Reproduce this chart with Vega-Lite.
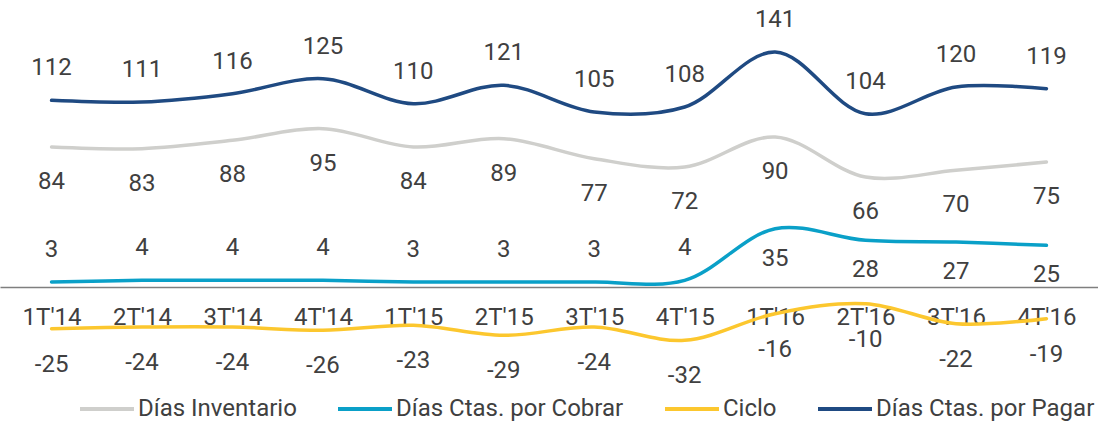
{
  "$schema": "https://vega.github.io/schema/vega-lite/v6.json",
  "width": 1098,
  "height": 421,
  "autosize": "none",
  "padding": 0,
  "background": "white",
  "config": {
    "view": {"stroke": null},
    "font": "Roboto",
    "text": {"font": "Roboto", "fontSize": 24, "color": "#404040", "baseline": "middle", "align": "center"}
  },
  "data": {
    "values": [
      {"q": "1T'14", "serie": "Días Inventario", "v": 84},
      {"q": "2T'14", "serie": "Días Inventario", "v": 83},
      {"q": "3T'14", "serie": "Días Inventario", "v": 88},
      {"q": "4T'14", "serie": "Días Inventario", "v": 95},
      {"q": "1T'15", "serie": "Días Inventario", "v": 84},
      {"q": "2T'15", "serie": "Días Inventario", "v": 89},
      {"q": "3T'15", "serie": "Días Inventario", "v": 77},
      {"q": "4T'15", "serie": "Días Inventario", "v": 72},
      {"q": "1T'16", "serie": "Días Inventario", "v": 90},
      {"q": "2T'16", "serie": "Días Inventario", "v": 66},
      {"q": "3T'16", "serie": "Días Inventario", "v": 70},
      {"q": "4T'16", "serie": "Días Inventario", "v": 75},
      {"q": "1T'14", "serie": "Días Ctas. por Cobrar", "v": 3},
      {"q": "2T'14", "serie": "Días Ctas. por Cobrar", "v": 4},
      {"q": "3T'14", "serie": "Días Ctas. por Cobrar", "v": 4},
      {"q": "4T'14", "serie": "Días Ctas. por Cobrar", "v": 4},
      {"q": "1T'15", "serie": "Días Ctas. por Cobrar", "v": 3},
      {"q": "2T'15", "serie": "Días Ctas. por Cobrar", "v": 3},
      {"q": "3T'15", "serie": "Días Ctas. por Cobrar", "v": 3},
      {"q": "4T'15", "serie": "Días Ctas. por Cobrar", "v": 4},
      {"q": "1T'16", "serie": "Días Ctas. por Cobrar", "v": 35},
      {"q": "2T'16", "serie": "Días Ctas. por Cobrar", "v": 28},
      {"q": "3T'16", "serie": "Días Ctas. por Cobrar", "v": 27},
      {"q": "4T'16", "serie": "Días Ctas. por Cobrar", "v": 25},
      {"q": "1T'14", "serie": "Ciclo", "v": -25},
      {"q": "2T'14", "serie": "Ciclo", "v": -24},
      {"q": "3T'14", "serie": "Ciclo", "v": -24},
      {"q": "4T'14", "serie": "Ciclo", "v": -26},
      {"q": "1T'15", "serie": "Ciclo", "v": -23},
      {"q": "2T'15", "serie": "Ciclo", "v": -29},
      {"q": "3T'15", "serie": "Ciclo", "v": -24},
      {"q": "4T'15", "serie": "Ciclo", "v": -32},
      {"q": "1T'16", "serie": "Ciclo", "v": -16},
      {"q": "2T'16", "serie": "Ciclo", "v": -10},
      {"q": "3T'16", "serie": "Ciclo", "v": -22},
      {"q": "4T'16", "serie": "Ciclo", "v": -19},
      {"q": "1T'14", "serie": "Días Ctas. por Pagar", "v": 112},
      {"q": "2T'14", "serie": "Días Ctas. por Pagar", "v": 111},
      {"q": "3T'14", "serie": "Días Ctas. por Pagar", "v": 116},
      {"q": "4T'14", "serie": "Días Ctas. por Pagar", "v": 125},
      {"q": "1T'15", "serie": "Días Ctas. por Pagar", "v": 110},
      {"q": "2T'15", "serie": "Días Ctas. por Pagar", "v": 121},
      {"q": "3T'15", "serie": "Días Ctas. por Pagar", "v": 105},
      {"q": "4T'15", "serie": "Días Ctas. por Pagar", "v": 108},
      {"q": "1T'16", "serie": "Días Ctas. por Pagar", "v": 141},
      {"q": "2T'16", "serie": "Días Ctas. por Pagar", "v": 104},
      {"q": "3T'16", "serie": "Días Ctas. por Pagar", "v": 120},
      {"q": "4T'16", "serie": "Días Ctas. por Pagar", "v": 119}
    ]
  },
  "encoding": {
    "x": {
      "field": "q", "type": "ordinal", "sort": null,
      "scale": {"type": "point", "padding": 0.57},
      "axis": {
        "title": null, "orient": "bottom", "offset": -134, "ticks": false,
        "labelAngle": 0, "labelFont": "Roboto", "labelFontSize": 24, "labelColor": "#404040",
        "labelBaseline": "middle", "labelPadding": 30,
        "domainColor": "#7f7f7f", "domainWidth": 1.5, "grid": false
      }
    },
    "y": {
      "field": "v", "type": "quantitative",
      "scale": {"domain": [-80.4, 172.2], "nice": false, "zero": false},
      "axis": null
    }
  },
  "layer": [
    {
      "mark": {"type": "line", "interpolate": "catmull-rom", "strokeWidth": 3.5, "strokeCap": "round"},
      "encoding": {
        "color": {
          "field": "serie", "type": "nominal",
          "scale": {
            "domain": ["Días Inventario", "Días Ctas. por Cobrar", "Ciclo", "Días Ctas. por Pagar"],
            "range": ["#cfcfcc", "#0aa0c8", "#fcc72e", "#1f4a82"]
          },
          "legend": {
            "title": null, "orient": "none", "direction": "horizontal",
            "legendX": 78, "legendY": 380,
            "symbolType": "stroke", "symbolSize": 2916, "symbolStrokeWidth": 4,
            "labelFont": "Roboto", "labelFontSize": 24, "labelColor": "#404040",
            "labelOffset": 2, "columnPadding": 33, "labelLimit": 400
          }
        }
      }
    },
    {
      "transform": [{"filter": "datum.serie === 'Días Ctas. por Pagar'"}],
      "mark": {"type": "text", "dy": -32},
      "encoding": {"text": {"field": "v", "type": "nominal"}}
    },
    {
      "transform": [{"filter": "datum.serie === 'Días Inventario'"}],
      "mark": {"type": "text", "dy": 35},
      "encoding": {"text": {"field": "v", "type": "nominal"}}
    },
    {
      "transform": [
        {"filter": "datum.serie === 'Días Ctas. por Cobrar'"},
        {"filter": {"not": {"field": "q", "oneOf": ["1T'16", "2T'16", "3T'16", "4T'16"]}}}
      ],
      "mark": {"type": "text", "dy": -32},
      "encoding": {"text": {"field": "v", "type": "nominal"}}
    },
    {
      "transform": [
        {"filter": "datum.serie === 'Días Ctas. por Cobrar'"},
        {"filter": {"field": "q", "oneOf": ["1T'16", "2T'16", "3T'16", "4T'16"]}}
      ],
      "mark": {"type": "text", "dy": 30},
      "encoding": {"text": {"field": "v", "type": "nominal"}}
    },
    {
      "transform": [{"filter": "datum.serie === 'Ciclo'"}],
      "mark": {"type": "text", "dy": 36},
      "encoding": {"text": {"field": "v", "type": "nominal"}}
    }
  ]
}
